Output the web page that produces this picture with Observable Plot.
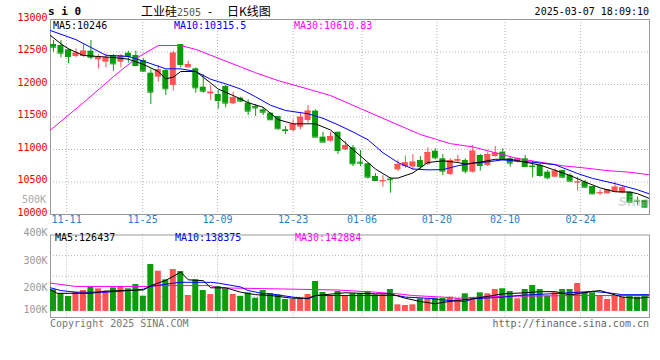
<!DOCTYPE html>
<html><head><meta charset="utf-8">
<script src="https://cdn.jsdelivr.net/npm/d3@7"></script>
<script src="https://cdn.jsdelivr.net/npm/@observablehq/plot@0.6"></script>
<style>
html,body{margin:0;padding:0;background:#fff;}
#wrap{position:relative;width:660px;height:360px;overflow:hidden;background:#fff;font-family:"DejaVu Sans Mono",monospace;font-size:10px;}
.t{position:absolute;white-space:pre;line-height:12px;}
.cjk{font-family:"Noto Sans CJK SC",sans-serif;font-size:12px;}
#price,#vol{position:absolute;left:0;}
#price{top:0}
#vol{top:224px}
</style></head><body>
<div id="wrap">
  <div id="price"></div>
  <div id="vol"></div>
  <div class="t" style="left:48px;top:6px;font-size:11px;font-weight:bold;">s i 0</div>
  <div class="t cjk" style="left:141px;top:5px;">工业硅</div>
  <div class="t" style="left:177px;top:7px;color:#555;">2505</div>
  <div class="t cjk" style="left:208px;top:5px;">-</div>
  <div class="t cjk" style="left:227px;top:5px;">日K线图</div>
  <div class="t" style="right:11px;top:6px;">2025-03-07 18:09:10</div>
  <div class="t" style="left:53px;top:20px;color:#000;">MA5:10246</div>
  <div class="t" style="left:174px;top:20px;color:#0000e0;">MA10:10315.5</div>
  <div class="t" style="left:294px;top:20px;color:#ff00ff;">MA30:10610.83</div>
  <div class="t" style="left:22px;top:194px;color:#aaa;">500K</div>
  <div class="t" style="left:618px;top:196px;color:rgba(190,190,190,0.55);font-style:italic;font-weight:bold;font-size:13px;font-family:'DejaVu Sans',sans-serif;">Sina</div>
  <div class="t" style="left:55px;top:232px;color:#000;">MA5:126437</div>
  <div class="t" style="left:175px;top:232px;color:#0000e0;">MA10:138375</div>
  <div class="t" style="left:295px;top:232px;color:#ff00ff;">MA30:142884</div>
  <div class="t" style="left:50px;top:318px;color:#777;">Copyright 2025 SINA.COM</div>
  <div class="t" style="right:11px;top:318px;color:#666;">http://finance.sina.com.cn</div>
</div>
<script>
// ---- data ----
const open = [12615,12600,12533,12431,12431,12513,12380,12343,12446,12343,
  12482,12446,12369,12174,12113,12215,11985,12615,12256,12241,
  11959,11856,11846,11969,11703,11790,11713,11661,11610,11559,
  11508,11303,11292,11343,11446,11590,11190,11128,11266,10995,
  11026,10805,10780,10585,10505,10545,10687,10735,10730,10831,
  10769,10974,10857,10615,10820,10831,10651,10908,10754,10892,
  10959,10857,10805,10857,10745,10754,10651,10574,10677,10600,
  10490,10497,10431,10320,10318,10343,10328,10343,10210,10215];
const high = [12677,12677,12549,12549,12626,12677,12461,12472,12461,12461,
  12513,12513,12395,12226,12292,12226,12513,12615,12358,12256,
  12154,11985,11908,11985,11882,11805,11764,11692,11641,11559,
  11508,11354,11457,11574,11677,11610,11266,11266,11266,11128,
  11062,10985,10780,10626,10600,10564,10835,10900,10923,10892,
  11026,11010,10923,10857,10908,10857,11062,10923,10959,11046,
  11010,10882,10872,10908,10820,10780,10677,10703,10677,10626,
  10574,10523,10431,10380,10380,10497,10431,10343,10267,10215];
const low = [12497,12410,12318,12410,12420,12380,12241,12256,12205,12256,
  12328,12277,12190,11692,12036,11831,11897,12256,12256,11867,
  11867,11754,11620,11641,11692,11728,11523,11508,11523,11446,
  11303,11231,11266,11303,11405,11190,11113,11113,10923,10985,
  10738,10738,10549,10523,10420,10328,10660,10710,10680,10677,
  10754,10841,10600,10600,10790,10626,10636,10667,10738,10882,
  10820,10728,10790,10728,10564,10574,10534,10574,10564,10497,
  10359,10410,10308,10292,10318,10343,10318,10174,10138,10103];
const close = [12574,12482,12431,12482,12513,12420,12420,12410,12318,12446,
  12431,12292,12205,11882,12226,11933,12482,12308,12308,11949,
  11897,11882,11754,11713,11795,11744,11590,11641,11574,11457,
  11318,11292,11385,11497,11590,11190,11113,11200,10985,11062,
  10780,10790,10574,10523,10520,10534,10770,10795,10805,10738,
  10954,10872,10667,10831,10841,10667,10974,10754,10923,10943,
  10857,10790,10857,10738,10738,10600,10564,10667,10574,10513,
  10500,10420,10318,10335,10380,10420,10410,10190,10205,10113];
const volumeK = [200.7,186.2,176.4,192,198.2,210.2,204.4,195.6,208,212.7,
  204.4,220,177.5,292.7,268.4,237.1,274.5,267.3,180,237.1,
  198.2,183.6,212.7,204.4,183.6,177,189,170.2,198.2,187,
  182,165.5,165.5,171,183.6,230.9,191,178,194.5,177.5,
  186.2,186.2,194.5,182.5,182.5,201.8,146.2,143.6,146.2,168,
  168,170.2,169,173.8,168,186.2,170.2,189.8,186.2,201.8,
  204.4,194.5,168,201.8,216.4,201.8,177.5,189.8,201.8,201.8,
  223.6,189.8,189.8,177.5,165.5,177.5,173.8,177.5,173.8,182.5];

// moving-average lines, read as (bar position, value) points
const ma5At  = [-0.4,1,2,4,6,8,10,12,14,15,16,17,19,20,22,24,26,28,30,32,35,37,39,41,43,45,46,48,50,52,54,55,57,59,61,63,65,67,69,71,73,75,77,78,79.6];
const ma5    = [12754,12626,12549,12446,12431,12415,12390,12310,12200,12087,12113,12200,12200,12113,11930,11830,11720,11650,11460,11395,11395,11300,11100,10900,10700,10560,10560,10640,10800,10825,10800,10775,10805,10850,10850,10805,10760,10680,10600,10500,10410,10350,10345,10320,10246];
const ma10At = [-0.4,3,7,10,12,15,17,19,21,23,25,27,29,31,34,36,38,40,42,44,46,48,50,52,54,56,58,60,62,64,67,70,72,75,78,79.6];
const ma10   = [12830,12690,12450,12431,12360,12241,12241,12200,12080,12010,11930,11810,11680,11600,11550,11480,11380,11270,11150,10950,10800,10700,10687,10690,10750,10790,10810,10841,10820,10805,10765,10630,10555,10475,10380,10316];
const ma30At = [-0.4,4,8,11,14,17,19,23,27,30,34,37,41,44,47,49,51,53,56,59,62,65,68,71,74,77,79.6];
const ma30   = [11300,11720,12120,12400,12600,12600,12540,12360,12180,12060,11930,11830,11630,11480,11330,11231,11160,11090,11040,10950,10860,10805,10750,10715,10675,10650,10611];

const vma5At  = [-0.4,0.5,5,7,12,13,15,17,18,20,21,23,25,27,29,32,34,35,39,43,45,47,49,51,52,54,56,58,60,63,65,67,69,72,73,76,78,79.6];
const vma5    = [201,188,188,196,200,216,235,265,237,234,208,208,192,183,180,170,170,180,190,186,186,170,158,150,155,162,168,177,186,190,194,194,182,195,198,174,170,174];
const vma10At = [-0.4,1,3,7,10,12,13,16,17,21,22,25,26,28,29,32,34,35,42,46,47,50,52,55,56,60,62,69,72,74,76,79.6];
const vma10   = [208,198,192,192,198,203,213,225,228,228,225,211,198,187,186,174,168,180,180,180,174,170,164,158,168,174,180,190,195,190,183,183];
const vma30At = [-0.4,3,12.5,13,21,22,30,38,43,46,48,52,54,57,60,70,79.6];
const vma30   = [225,213,213,216,216,208,204,200,192,186,180,174,170,174,177,180,180];

const xTickLabels = ["11-11","11-25","12-09","12-23","01-06","01-20","02-10","02-24"];
const xTickAt     = [1.75, 11.9, 21.9, 32, 41.2, 51.2, 60.3, 70.4];
const priceTicks  = [10000,10500,11000,11500,12000,12500,13000];
const priceGrid   = [10500,11000,11500,12000,12500];
const volTicks    = [100,200,300,400];
const volGrid     = [175,250,325];
const volBase     = 122;

// ---- drawing ----
const RED = "#ff5454", GREEN = "#0a9c0a";
const candles = open.map((o, i) => ({i, open: o, high: high[i], low: low[i], close: close[i], vol: volumeK[i]}));
const col = d => d.close >= d.open ? RED : GREEN;
const xDomain = [-0.4, candles.length - 0.4];
const half = 0.4;
const dotted = {stroke: "#b4b4b4", strokeDasharray: "1,2"};
const baseStyle = {background: "transparent", fontFamily: "DejaVu Sans Mono", fontSize: "10px", overflow: "visible"};

const price = Plot.plot({
  width: 660, height: 230, marginLeft: 50, marginRight: 11, marginTop: 19, marginBottom: 16,
  x: {domain: xDomain, axis: null},
  y: {domain: [10000, 13000], axis: null},
  style: baseStyle,
  marks: [
    Plot.ruleY(priceGrid, dotted),
    Plot.ruleX(xTickAt, dotted),
    Plot.frame({stroke: "#999"}),
    Plot.text(priceTicks, {y: d => d, frameAnchor: "left", dx: -3, dy: -2, textAnchor: "end", fill: "#e60000", text: d => String(d)}),
    Plot.text(xTickAt, {x: d => d, frameAnchor: "bottom", dy: 8, fill: "#1f80d0", text: (d, i) => xTickLabels[i]}),
    Plot.ruleX(candles, {x: "i", y1: "low", y2: "high", stroke: col, strokeWidth: 1}),
    Plot.rect(candles, {x1: d => d.i - half, x2: d => d.i + half, y1: "open", y2: "close", fill: col}),
    Plot.ruleY(candles, {y: "close", x1: d => d.i - half, x2: d => d.i + half, stroke: col}),
    Plot.line(d3.zip(ma30At, ma30), {stroke: "#ff00ff", strokeWidth: 1, clip: true}),
    Plot.line(d3.zip(ma10At, ma10), {stroke: "#0000ff", strokeWidth: 1, clip: true}),
    Plot.line(d3.zip(ma5At, ma5), {stroke: "#000", strokeWidth: 1, clip: true})
  ]
});
document.getElementById("price").appendChild(price);

const vol = Plot.plot({
  width: 660, height: 100, marginLeft: 50, marginRight: 11, marginTop: 10.5, marginBottom: 7,
  x: {domain: xDomain, axis: null},
  y: {domain: [100, 400], axis: null},
  style: baseStyle,
  marks: [
    Plot.ruleY(volGrid, dotted),
    Plot.ruleX(xTickAt, dotted),
    Plot.frame({stroke: "#999"}),
    Plot.text(volTicks, {y: d => Math.max(d, volBase), frameAnchor: "left", dx: -3, dy: -2, textAnchor: "end", fill: "#999", text: d => d + "K"}),
    Plot.rect(candles, {x1: d => d.i - half, x2: d => d.i + half, y1: volBase, y2: "vol", fill: col}),
    Plot.line(d3.zip(vma30At, vma30), {stroke: "#ff00ff", strokeWidth: 1, clip: true}),
    Plot.line(d3.zip(vma10At, vma10), {stroke: "#0000ff", strokeWidth: 1, clip: true}),
    Plot.line(d3.zip(vma5At, vma5), {stroke: "#000", strokeWidth: 1, clip: true})
  ]
});
document.getElementById("vol").appendChild(vol);
</script>
</body></html>
